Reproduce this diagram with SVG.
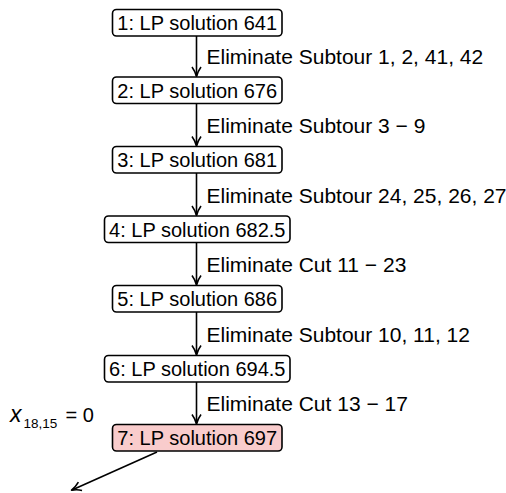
<svg xmlns="http://www.w3.org/2000/svg" width="506" height="493" viewBox="0 0 506 493">
<defs>
<marker id="arr" viewBox="0 0 12 12" refX="10" refY="6" markerWidth="12" markerHeight="12" markerUnits="userSpaceOnUse" orient="auto">
<path d="M1,1.5 Q5,4.5 10.5,6 Q5,7.5 1,10.5" fill="none" stroke="#000" stroke-width="1.6" stroke-linejoin="round"/>
</marker>
<style>
.box{fill:#fff;stroke:#000;stroke-width:1.6}
.hi{fill:#f9cccc}
.t{font-family:"Liberation Sans",Arial,sans-serif;font-size:20px;fill:#000}
.l{font-size:21px}
.c{text-anchor:middle}
.e{stroke:#000;stroke-width:1.6;fill:none;marker-end:url(#arr)}
</style>
</defs>
<g id="edges">
<line class="e" x1="196.5" y1="36" x2="196.5" y2="76"/>
<line class="e" x1="196.5" y1="103.5" x2="196.5" y2="145.5"/>
<line class="e" x1="196.5" y1="173" x2="196.5" y2="215"/>
<line class="e" x1="196.5" y1="242.5" x2="196.5" y2="284.5"/>
<line class="e" x1="196.5" y1="312" x2="196.5" y2="354.5"/>
<line class="e" x1="196.5" y1="382" x2="196.5" y2="423.5"/>
<line class="e" x1="157" y1="452" x2="72" y2="490"/>
<text class="t l" x="206.5" y="64">Eliminate Subtour 1, 2, 41, 42</text>
<text class="t l" x="206.5" y="133">Eliminate Subtour 3 − 9</text>
<text class="t l" x="206.5" y="202.5">Eliminate Subtour 24, 25, 26, 27</text>
<text class="t l" x="206.5" y="272">Eliminate Cut 11 − 23</text>
<text class="t l" x="206.5" y="341.5">Eliminate Subtour 10, 11, 12</text>
<text class="t l" x="206.5" y="411">Eliminate Cut 13 − 17</text>
<text class="t" x="10" y="421.5"><tspan font-style="italic" font-size="23">x</tspan><tspan x="23.5" y="428" font-size="13.5">18,15</tspan><tspan x="60" y="421.5"> = 0</tspan></text>
</g>
<g id="n1"><rect class="box" x="112.5" y="9.5" width="169.5" height="26.5" rx="4"/><text class="t c" x="197.25" y="30">1: LP solution 641</text></g>
<g id="n2"><rect class="box" x="112.5" y="77" width="169.5" height="26.5" rx="4"/><text class="t c" x="197.25" y="97.5">2: LP solution 676</text></g>
<g id="n3"><rect class="box" x="112.5" y="146.5" width="169.5" height="26.5" rx="4"/><text class="t c" x="197.25" y="167">3: LP solution 681</text></g>
<g id="n4"><rect class="box" x="104.5" y="216" width="185.5" height="26.5" rx="4"/><text class="t c" x="197.25" y="236.5">4: LP solution 682.5</text></g>
<g id="n5"><rect class="box" x="112.5" y="285.5" width="169.5" height="26.5" rx="4"/><text class="t c" x="197.25" y="306">5: LP solution 686</text></g>
<g id="n6"><rect class="box" x="104.5" y="355.5" width="185.5" height="26.5" rx="4"/><text class="t c" x="197.25" y="376">6: LP solution 694.5</text></g>
<g id="n7"><rect class="box hi" x="112.5" y="424.5" width="169.5" height="26.5" rx="4"/><text class="t c" x="197.25" y="445">7: LP solution 697</text></g>
</svg>
